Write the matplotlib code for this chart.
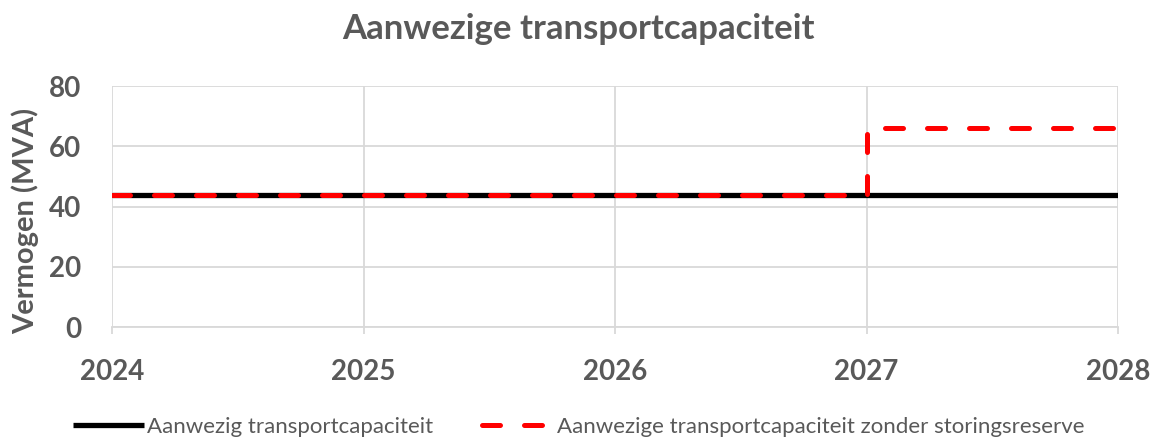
import matplotlib.pyplot as plt

# Data
years = [2024, 2025, 2026, 2027, 2028]
capaciteit = [44, 44, 44, 44, 44]
zonder_reserve = [44, 44, 44, 66, 66]
y_ticks = [0, 20, 40, 60, 80]

grey = '#595959'
grid_grey = '#d9d9d9'

plt.rcParams['font.family'] = ['Lato', 'DejaVu Sans']

fig = plt.figure(figsize=(11.57, 4.37), dpi=100)
ax = fig.add_axes([0.0968, 0.2517, 0.8695, 0.5513])

ax.plot(years, capaciteit, color='black', linewidth=3.8, solid_capstyle='butt',
        label='Aanwezig transportcapaciteit', zorder=3)
ax.plot(years, zonder_reserve, color='#ff0000', linewidth=3.6, drawstyle='steps-post',
        dashes=(3.6, 4.8), dash_capstyle='round',
        label='Aanwezige transportcapaciteit zonder storingsreserve', zorder=4)

ax.set_xlim(2024, 2028)
ax.set_ylim(0, 80)
ax.set_xticks(years)
ax.set_yticks(y_ticks)
ax.grid(True, color=grid_grey, linewidth=1.3, zorder=0)
ax.set_axisbelow(True)
for s in ['top', 'right', 'left']:
    ax.spines[s].set_visible(False)
ax.spines['bottom'].set_color(grid_grey)
ax.spines['bottom'].set_linewidth(1.3)

ax.tick_params(axis='x', length=5, width=1.3, color=grid_grey, pad=18,
               labelsize=20, labelcolor=grey)
ax.tick_params(axis='y', length=0, pad=22, labelsize=20, labelcolor=grey)
for lab in ax.get_xticklabels() + ax.get_yticklabels():
    lab.set_fontweight('bold')

ax.set_ylabel('Vermogen (MVA)', fontsize=21, fontweight='bold', color=grey)
ax.yaxis.set_label_coords(-0.072, 0.44)
fig.suptitle('Aanwezige transportcapaciteit', fontsize=25, fontweight='bold', color=grey, y=0.97)

leg = fig.legend(loc='lower center', bbox_to_anchor=(0.5, -0.045), ncol=2, frameon=False,
                 fontsize=16, handlelength=3.2, handletextpad=0.15, columnspacing=2.2)
for t in leg.get_texts():
    t.set_color(grey)

fig.savefig('out.png', dpi=100)
